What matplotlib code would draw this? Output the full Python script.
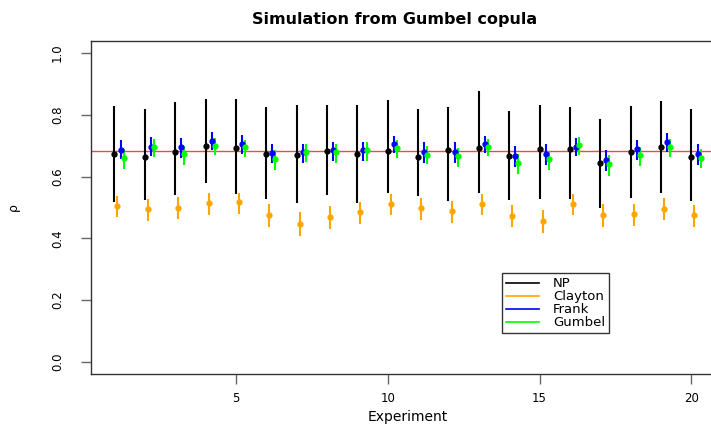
import numpy as np
import matplotlib
matplotlib.use('Agg')
import matplotlib.pyplot as plt

plt.rcParams['font.family'] = ['DejaVu Sans']

experiment = np.arange(1, 21)
true_rho = 0.683

np_mid = [0.672, 0.665, 0.679, 0.699, 0.692, 0.672, 0.669, 0.683, 0.674, 0.684,
          0.662, 0.685, 0.692, 0.668, 0.688, 0.689, 0.643, 0.681, 0.697, 0.663]
np_lo = [0.517, 0.525, 0.539, 0.580, 0.543, 0.526, 0.515, 0.539, 0.516, 0.547,
         0.536, 0.520, 0.548, 0.523, 0.527, 0.526, 0.499, 0.531, 0.546, 0.522]
np_hi = [0.828, 0.818, 0.841, 0.851, 0.851, 0.825, 0.831, 0.832, 0.832, 0.849,
         0.819, 0.825, 0.877, 0.811, 0.832, 0.824, 0.785, 0.830, 0.845, 0.818]

clayton_mid = [0.505, 0.495, 0.499, 0.513, 0.517, 0.477, 0.448, 0.469, 0.485, 0.512,
               0.497, 0.488, 0.511, 0.474, 0.455, 0.512, 0.476, 0.478, 0.495, 0.475]
clayton_lo = [0.469, 0.457, 0.463, 0.477, 0.480, 0.438, 0.409, 0.431, 0.448, 0.475,
              0.461, 0.451, 0.476, 0.436, 0.416, 0.476, 0.438, 0.440, 0.459, 0.436]
clayton_hi = [0.537, 0.527, 0.533, 0.546, 0.548, 0.511, 0.486, 0.504, 0.518, 0.545,
              0.531, 0.520, 0.544, 0.508, 0.492, 0.545, 0.511, 0.512, 0.532, 0.508]

frank_mid = [0.687, 0.697, 0.696, 0.716, 0.707, 0.676, 0.680, 0.686, 0.685, 0.706,
             0.681, 0.679, 0.707, 0.667, 0.674, 0.696, 0.654, 0.688, 0.712, 0.674]
frank_lo = [0.657, 0.666, 0.659, 0.686, 0.673, 0.643, 0.643, 0.651, 0.651, 0.675,
            0.644, 0.643, 0.677, 0.632, 0.639, 0.667, 0.619, 0.655, 0.679, 0.639]
frank_hi = [0.718, 0.727, 0.724, 0.744, 0.735, 0.705, 0.706, 0.713, 0.713, 0.733,
            0.712, 0.711, 0.731, 0.699, 0.705, 0.724, 0.686, 0.717, 0.741, 0.705]

gumbel_mid = [0.659, 0.695, 0.672, 0.700, 0.695, 0.658, 0.680, 0.680, 0.685, 0.693,
              0.671, 0.666, 0.697, 0.643, 0.657, 0.702, 0.640, 0.669, 0.696, 0.660]
gumbel_lo = [0.626, 0.663, 0.639, 0.670, 0.664, 0.623, 0.647, 0.645, 0.651, 0.661,
             0.640, 0.631, 0.666, 0.609, 0.621, 0.671, 0.603, 0.635, 0.663, 0.629]
gumbel_hi = [0.688, 0.722, 0.699, 0.726, 0.719, 0.686, 0.706, 0.705, 0.711, 0.718,
             0.698, 0.693, 0.722, 0.672, 0.684, 0.727, 0.670, 0.696, 0.722, 0.690]

methods = ['NP', 'Clayton', 'Frank', 'Gumbel']
colors = ['black', '#FFA500', '#0000FF', '#00FF00']
offsets = [0.0, 0.1, 0.2, 0.3]
series = [(np_mid, np_lo, np_hi), (clayton_mid, clayton_lo, clayton_hi),
          (frank_mid, frank_lo, frank_hi), (gumbel_mid, gumbel_lo, gumbel_hi)]

W, H = 711, 425
fig = plt.figure(figsize=(W / 100, H / 100), dpi=100)
# plot region runs off the right edge, as in the reference
ax = fig.add_axes([91 / W, 1 - 374.3 / H, (724 - 91) / W, (374.3 - 40.7) / H])

ax.axhline(true_rho, color='#FF4545', lw=1.0, zorder=1)

handles = []
for name, col, off, (mid, lo, hi) in zip(methods, colors, offsets, series):
    x = experiment + off
    ax.vlines(x, lo, hi, color=col, lw=1.5, zorder=2)
    ax.plot(x, mid, 'o', color=col, ms=3.5, zorder=3)
    h, = ax.plot([], [], color=col, lw=1.2, label=name)
    handles.append(h)

ax.set_xlim(0.228, 21.072)
ax.set_ylim(-0.04, 1.04)
ax.set_xticks([5, 10, 15, 20])
ax.set_yticks([0.0, 0.2, 0.4, 0.6, 0.8, 1.0])
ax.set_yticklabels(['0.0', '0.2', '0.4', '0.6', '0.8', '1.0'], rotation=90, va='center')
ax.tick_params(axis='both', direction='out', length=7.5, width=1.0, color='#666666',
               labelsize=8.5)
ax.tick_params(axis='y', pad=12)
ax.tick_params(axis='x', pad=5)
for s in ax.spines.values():
    s.set_linewidth(1.0)
    s.set_color('#333333')

ax.set_xlabel('Experiment', fontsize=10, labelpad=4)
ax.set_ylabel('ρ', fontsize=9, labelpad=22)

fig.text(395 / W, 1 - 24 / H, 'Simulation from Gumbel copula', ha='center',
         va='baseline', fontsize=11.5, fontweight='bold')

leg = ax.legend(handles=handles, loc='upper left',
                bbox_to_anchor=(501.7 / W, 1 - 273.3 / H), bbox_transform=fig.transFigure,
                fontsize=9.5, frameon=True, fancybox=False, framealpha=1,
                edgecolor='#333333', handlelength=2.5, handletextpad=1.1,
                labelspacing=0.0, borderpad=0.3, borderaxespad=0)
leg.get_frame().set_linewidth(1.0)

fig.savefig('out.png', dpi=100)
